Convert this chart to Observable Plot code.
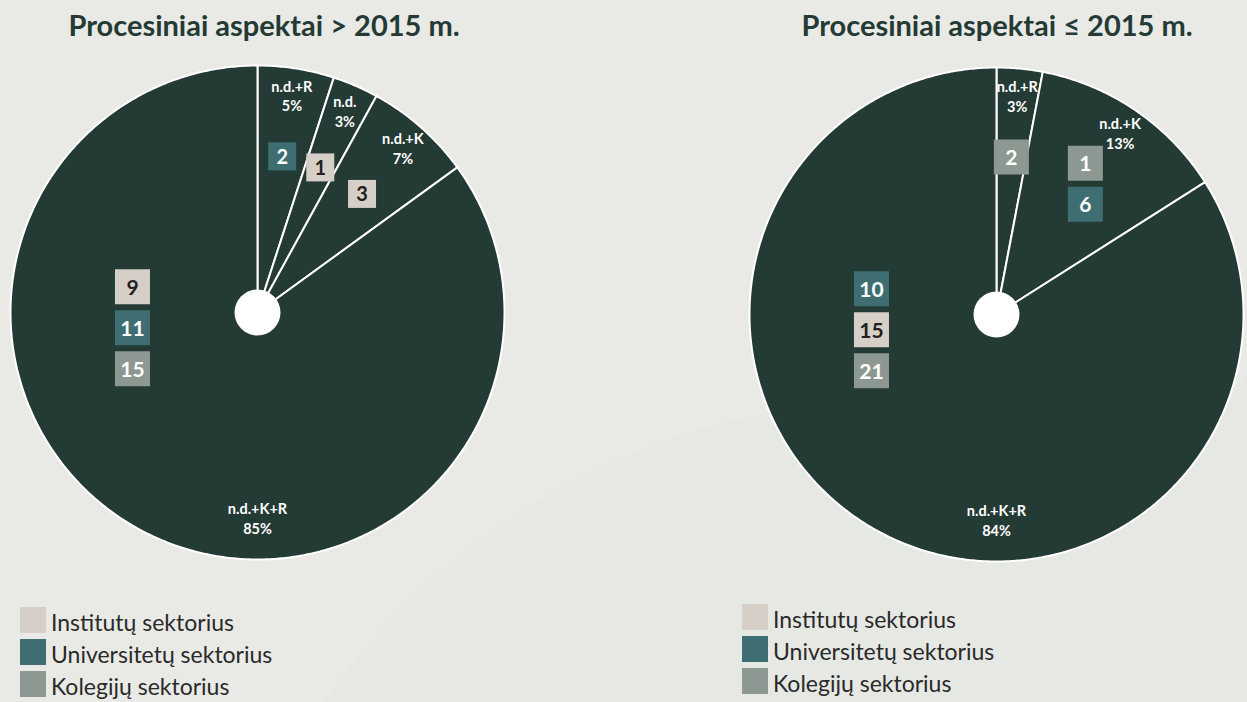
<!DOCTYPE html>
<html>
<head>
<meta charset="utf-8">
<script src="https://cdn.jsdelivr.net/npm/d3@7"></script>
<script src="https://cdn.jsdelivr.net/npm/@observablehq/plot@0.6"></script>
<style>
  html, body { margin: 0; padding: 0; }
  body { width: 1247px; height: 702px; overflow: hidden; background: #E9EAE5; position: relative; font-family: Lato, "Open Sans", sans-serif; }
  .bgshape { position: absolute; border-radius: 50%; background: #E6E8E3; }
  .title { position: absolute; top: 8px; line-height: 34px; font-size: 29px; font-weight: 700; color: #243A35; white-space: nowrap; transform: translateX(-50%); }
  .pie { position: absolute; }
  .legend { position: absolute; }
  .legend .row { display: flex; align-items: flex-end; height: 32px; }
  .legend .sw { width: 26px; height: 26px; margin-right: 5px; flex: none; }
  .legend .lab { font-size: 23px; color: #2A2A2A; line-height: 26px; position: relative; top: 2px; }
</style>
</head>
<body>
<div class="bgshape" style="left:200px; top:400px; width:1400px; height:1400px;"></div>
<div class="bgshape" style="left:1120px; top:20px; width:1560px; height:1560px;"></div>
<div id="root"></div>
<script>
// ---------- data ----------
const titles = ["Procesiniai aspektai > 2015 m.", "Procesiniai aspektai \u2264 2015 m."];

const sectors = ["Institutų sektorius", "Universitetų sektorius", "Kolegijų sektorius"];
const sectorColors = ["#D5CFC7", "#3E6E72", "#8E9893"];
const sectorTextColors = ["#231F20", "#FFFFFF", "#FFFFFF"];

// Left chart (> 2015 m.)
const slicesA = ["n.d.+R", "n.d.", "n.d.+K", "n.d.+K+R"];
const pctA = [5, 3, 7, 85];
const countSliceA  = ["n.d.+R", "n.d.", "n.d.+K", "n.d.+K+R", "n.d.+K+R", "n.d.+K+R"];
const countSectorA = ["Universitetų sektorius", "Institutų sektorius", "Institutų sektorius", "Institutų sektorius", "Universitetų sektorius", "Kolegijų sektorius"];
const countValueA  = [2, 1, 3, 9, 11, 15];

// Right chart (≤ 2015 m.)
const slicesB = ["n.d.+R", "n.d.+K", "n.d.+K+R"];
const pctB = [3, 13, 84];
const countSliceB  = ["n.d.+R", "n.d.+K", "n.d.+K", "n.d.+K+R", "n.d.+K+R", "n.d.+K+R"];
const countSectorB = ["Kolegijų sektorius", "Kolegijų sektorius", "Universitetų sektorius", "Universitetų sektorius", "Institutų sektorius", "Kolegijų sektorius"];
const countValueB  = [2, 1, 6, 10, 15, 21];

// ---------- drawing ----------
const SIZE = 514, MARGIN = 10;
const PX = 2 / (SIZE - 2 * MARGIN); // data units per pixel
const pieColor = "#243A35";

function makePie(names, pcts, cSlice, cSector, cValue, smallBoxes) {
  const total = d3.sum(pcts);
  let acc = 0;
  const slices = names.map((name, i) => {
    const a0 = acc / total * 2 * Math.PI; acc += pcts[i];
    const a1 = acc / total * 2 * Math.PI;
    return {name, pct: pcts[i], a0, a1, mid: (a0 + a1) / 2};
  });
  const bigIdx = d3.maxIndex(pcts);

  const poly = [];
  slices.forEach(s => {
    poly.push({name: s.name, x: 0, y: 0});
    const n = Math.max(2, Math.ceil((s.a1 - s.a0) / (Math.PI / 360)));
    for (let k = 0; k <= n; k++) {
      const a = s.a0 + (s.a1 - s.a0) * k / n;
      poly.push({name: s.name, x: Math.sin(a), y: Math.cos(a)});
    }
    poly.push({name: s.name, x: 0, y: 0});
  });

  const labels = slices.map((s, i) => {
    const big = i === bigIdx;
    const a = big ? Math.PI : s.mid;
    const rr = big ? 0.83 : 0.89;
    return {x: Math.sin(a) * rr, y: Math.cos(a) * rr, text: `${s.name}\n${s.pct}%`};
  });

  const boxes = [];
  slices.forEach((s, i) => {
    const items = cSlice.map((sl, j) => ({sl, sector: cSector[j], v: cValue[j]})).filter(d => d.sl === s.name);
    const big = i === bigIdx;
    const a = big ? (263 / 180) * Math.PI : s.mid;
    const rr = big ? 0.51 : 0.64;
    const cx = Math.sin(a) * rr, cy = Math.cos(a) * rr;
    const side = (smallBoxes && !big) ? 28 : 35;
    items.forEach((d, k) => {
      boxes.push({
        x: cx,
        y: cy - (k - (items.length - 1) / 2) * 41 * PX,
        v: d.v,
        side,
        fill: sectorColors[sectors.indexOf(d.sector)],
        tc: sectorTextColors[sectors.indexOf(d.sector)]
      });
    });
  });

  return Plot.plot({
    width: SIZE, height: SIZE, margin: MARGIN,
    x: {domain: [-1, 1], axis: null},
    y: {domain: [-1, 1], axis: null},
    r: {type: "identity"},
    color: {type: "identity"},
    style: {background: "transparent", overflow: "visible"},
    marks: [
      Plot.line(poly, {x: "x", y: "y", z: "name", fill: pieColor, stroke: "white", strokeWidth: 2, strokeLinejoin: "round", curve: "linear"}),
      Plot.dot([{x: 0, y: 0}], {x: "x", y: "y", r: 23, fill: "white", stroke: "none"}),
      Plot.text(labels, {x: "x", y: "y", text: "text", fill: "white", fontSize: 14.5, fontWeight: 700, fontFamily: "Lato, sans-serif", lineHeight: 1.35}),
      Plot.dot(boxes, {x: "x", y: "y", symbol: "square", r: d => d.side / Math.sqrt(Math.PI), fill: "fill", stroke: "none"}),
      Plot.text(boxes, {x: "x", y: "y", text: d => String(d.v), fill: "tc", fontSize: d => d.side === 35 ? 21 : 20, fontWeight: 700, fontFamily: "Lato, sans-serif", dy: 1})
    ]
  });
}

const root = document.getElementById("root");

function place(el, cls, left, top) {
  el.classList.add(cls);
  el.style.left = left + "px";
  el.style.top = top + "px";
  root.appendChild(el);
}

function title(text, cx) {
  const d = document.createElement("div");
  d.className = "title";
  d.textContent = text;
  d.style.left = cx + "px";
  root.appendChild(d);
}

function legend(left, top) {
  const d = document.createElement("div");
  sectors.forEach((s, i) => {
    const r = document.createElement("div"); r.className = "row";
    const sw = document.createElement("div"); sw.className = "sw"; sw.style.background = sectorColors[i];
    const lab = document.createElement("div"); lab.className = "lab"; lab.textContent = s;
    r.appendChild(sw); r.appendChild(lab); d.appendChild(r);
  });
  place(d, "legend", left, top);
}

title(titles[0], 264);
title(titles[1], 997);

place(makePie(slicesA, pctA, countSliceA, countSectorA, countValueA, true), "pie", 0, 55);
place(makePie(slicesB, pctB, countSliceB, countSectorB, countValueB, false), "pie", 739, 57);

legend(20, 601);
legend(742, 598);
</script>
</body>
</html>
